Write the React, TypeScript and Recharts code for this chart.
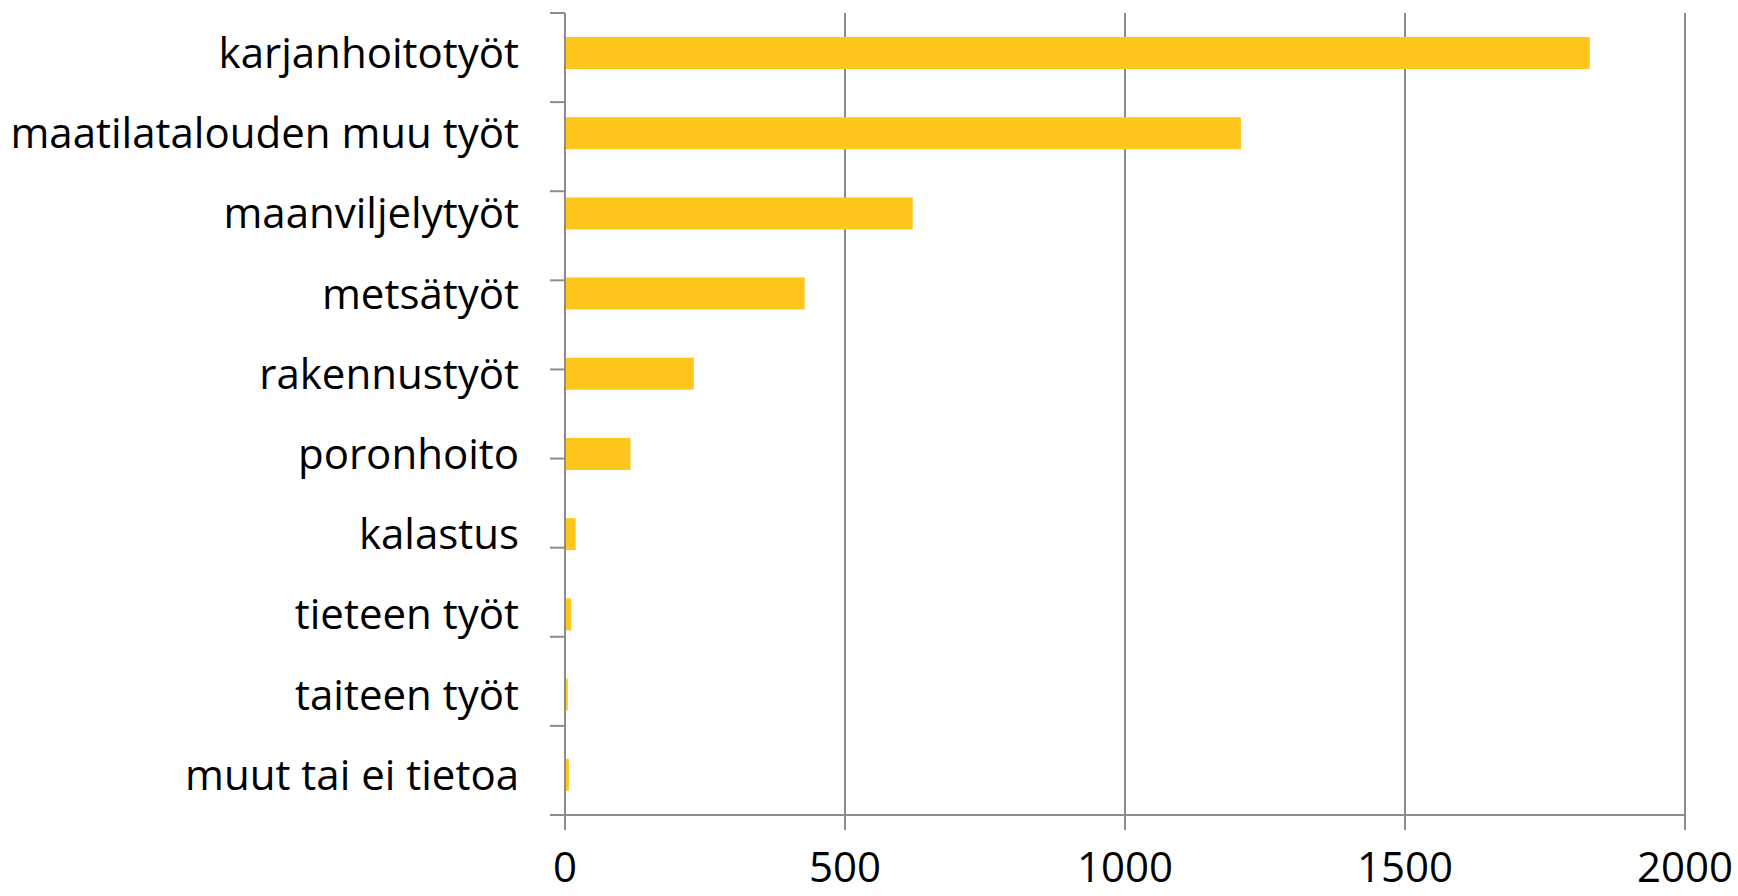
import React from 'react';
import { BarChart, Bar, XAxis, YAxis, CartesianGrid } from 'recharts';

const categories = [
  'karjanhoitotyöt',
  'maatilatalouden muu työt',
  'maanviljelytyöt',
  'metsätyöt',
  'rakennustyöt',
  'poronhoito',
  'kalastus',
  'tieteen työt',
  'taiteen työt',
  'muut tai ei tietoa',
];
const values = [1830, 1207, 621, 428, 230, 117, 19, 11, 5, 7];
const xTicks = [0, 500, 1000, 1500, 2000];
const boundaryTicks = [0, 1, 2, 3, 4, 5, 6, 7, 8, 9, 10];

const data = categories.map((name, i) => ({ name, value: values[i] }));

const AXIS = '#8c8c8c';
const FONT = "'Open Sans', sans-serif";

const EmptyTick = () => <g />;

export default function App() {
  return (
    <div style={{ position: 'absolute', left: 0, top: 0, background: '#fff' }}>
      <BarChart
        width={1738}
        height={896}
        data={data}
        layout="vertical"
        margin={{ top: 13, right: 53, bottom: 0, left: 0 }}
      >
        <CartesianGrid
          horizontal={false}
          stroke={AXIS}
          strokeWidth={2}
          yAxisId="c"
        />
        <XAxis
          type="number"
          domain={[0, 2000]}
          ticks={xTicks}
          interval={0}
          height={81}
          tickSize={15}
          tickMargin={22}
          axisLine={{ stroke: AXIS, strokeWidth: 2 }}
          tickLine={{ stroke: AXIS, strokeWidth: 2 }}
          tick={{ fill: '#000', fontSize: 42, fontFamily: FONT }}
        />
        <YAxis
          yAxisId="b"
          type="number"
          domain={[0, 10]}
          ticks={boundaryTicks}
          interval={0}
          width={15}
          tick={EmptyTick}
          tickSize={15}
          axisLine={{ stroke: AXIS, strokeWidth: 2 }}
          tickLine={{ stroke: AXIS, strokeWidth: 2 }}
        />
        <YAxis
          yAxisId="c"
          type="category"
          dataKey="name"
          width={550}
          interval={0}
          axisLine={false}
          tickLine={false}
          tickSize={0}
          tickMargin={31}
          tick={{ fill: '#000', fontSize: 42, fontFamily: FONT }}
        />
        <Bar
          yAxisId="c"
          dataKey="value"
          fill="#FFC61E"
          barSize={32}
          isAnimationActive={false}
        />
      </BarChart>
    </div>
  );
}
